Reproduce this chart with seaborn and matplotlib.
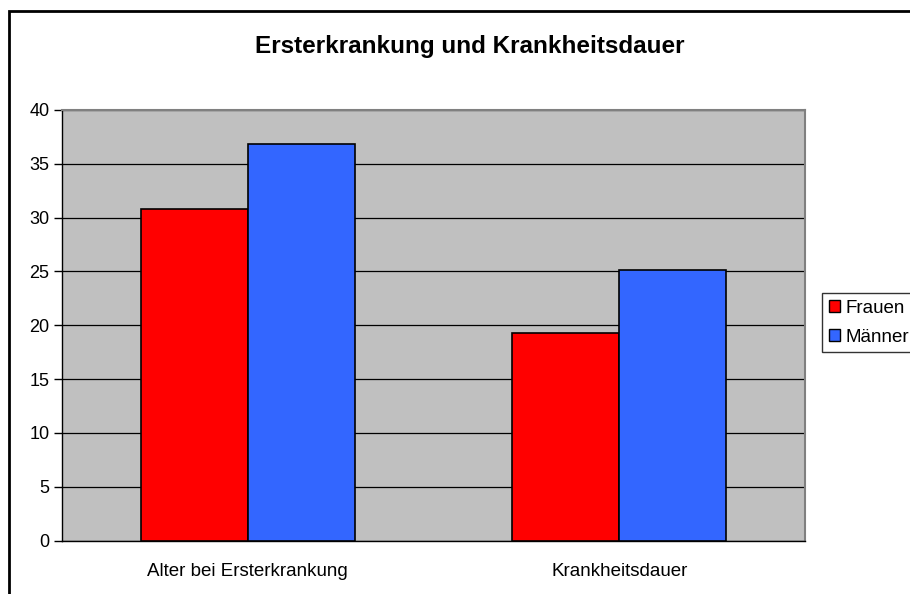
import matplotlib
matplotlib.use("Agg")
import matplotlib.pyplot as plt
import seaborn as sns
import pandas as pd
from matplotlib.patches import Rectangle

categories = ["Alter bei Ersterkrankung", "Krankheitsdauer"]
series = ["Frauen", "Männer"]
frauen = [30.8, 19.3]
maenner = [36.8, 25.1]
colors = ["#FF0000", "#3366FF"]
title = "Ersterkrankung und Krankheitsdauer"

df = pd.DataFrame({
    "Kategorie": categories * 2,
    "Gruppe": [series[0]] * 2 + [series[1]] * 2,
    "Wert": frauen + maenner,
})

sns.set_theme(style="white")
plt.rcParams["font.family"] = ["Liberation Sans", "DejaVu Sans"]
plt.rcParams["text.color"] = "black"
plt.rcParams["xtick.color"] = "black"
plt.rcParams["ytick.color"] = "black"

fig = plt.figure(figsize=(9.1, 5.94), dpi=100)
ax = fig.add_axes([62/910, 1-540.5/594, 743/910, 430.5/594])
ax.set_facecolor("#C0C0C0")

sns.barplot(data=df, x="Kategorie", y="Wert", hue="Gruppe", palette=colors,
            width=0.577, edgecolor="black", linewidth=1.2, saturation=1,
            ax=ax, zorder=3)

ax.set_ylim(0, 40)
ax.set_xlim(-0.5, 1.5)
ax.set_yticks(range(0, 41, 5))
ax.yaxis.grid(True, color="black", linewidth=0.9, zorder=0)
ax.set_axisbelow(True)
ax.set_xlabel("")
ax.set_ylabel("")

ax.set_xticks([0, 1])
ax.set_xticklabels(categories, fontsize=13.5)
ax.tick_params(axis="x", which="major", length=0, pad=16)
ax.set_xticks([-0.5, 0.5, 1.5], minor=True)
ax.tick_params(axis="x", which="minor", length=6, width=1, color="black", direction="out")
ax.tick_params(axis="y", length=6, width=1, color="black", direction="out", labelsize=13, pad=3, left=True)

for s in ["left", "bottom"]:
    ax.spines[s].set_color("black")
    ax.spines[s].set_linewidth(1)
for s in ["top", "right"]:
    ax.spines[s].set_color("#808080")
    ax.spines[s].set_linewidth(1.5)

ax.legend_.remove()
handles = [Rectangle((0, 0), 1, 1, facecolor=c, edgecolor="black", linewidth=1) for c in colors]
leg = fig.legend(handles, series, loc="upper left", bbox_to_anchor=(822/910, 1-293/594),
                 frameon=True, fontsize=13.5, handlelength=0.6, handleheight=0.6,
                 handletextpad=0.3, borderpad=0.35, labelspacing=0.65, fancybox=False,
                 borderaxespad=0)
leg.get_frame().set_edgecolor("black")
leg.get_frame().set_linewidth(1)
for t in leg.get_texts():
    t.set_color("black")

fig.text(470/910, 1-47/594, title, ha="center", va="center", fontsize=17.5,
         fontweight="bold", color="black")

fig.add_artist(Rectangle((9/910, -0.05), 1.0, 1-11/594+0.05, transform=fig.transFigure,
                         fill=False, edgecolor="black", linewidth=2, clip_on=False))

fig.savefig("out.png", dpi=100)
